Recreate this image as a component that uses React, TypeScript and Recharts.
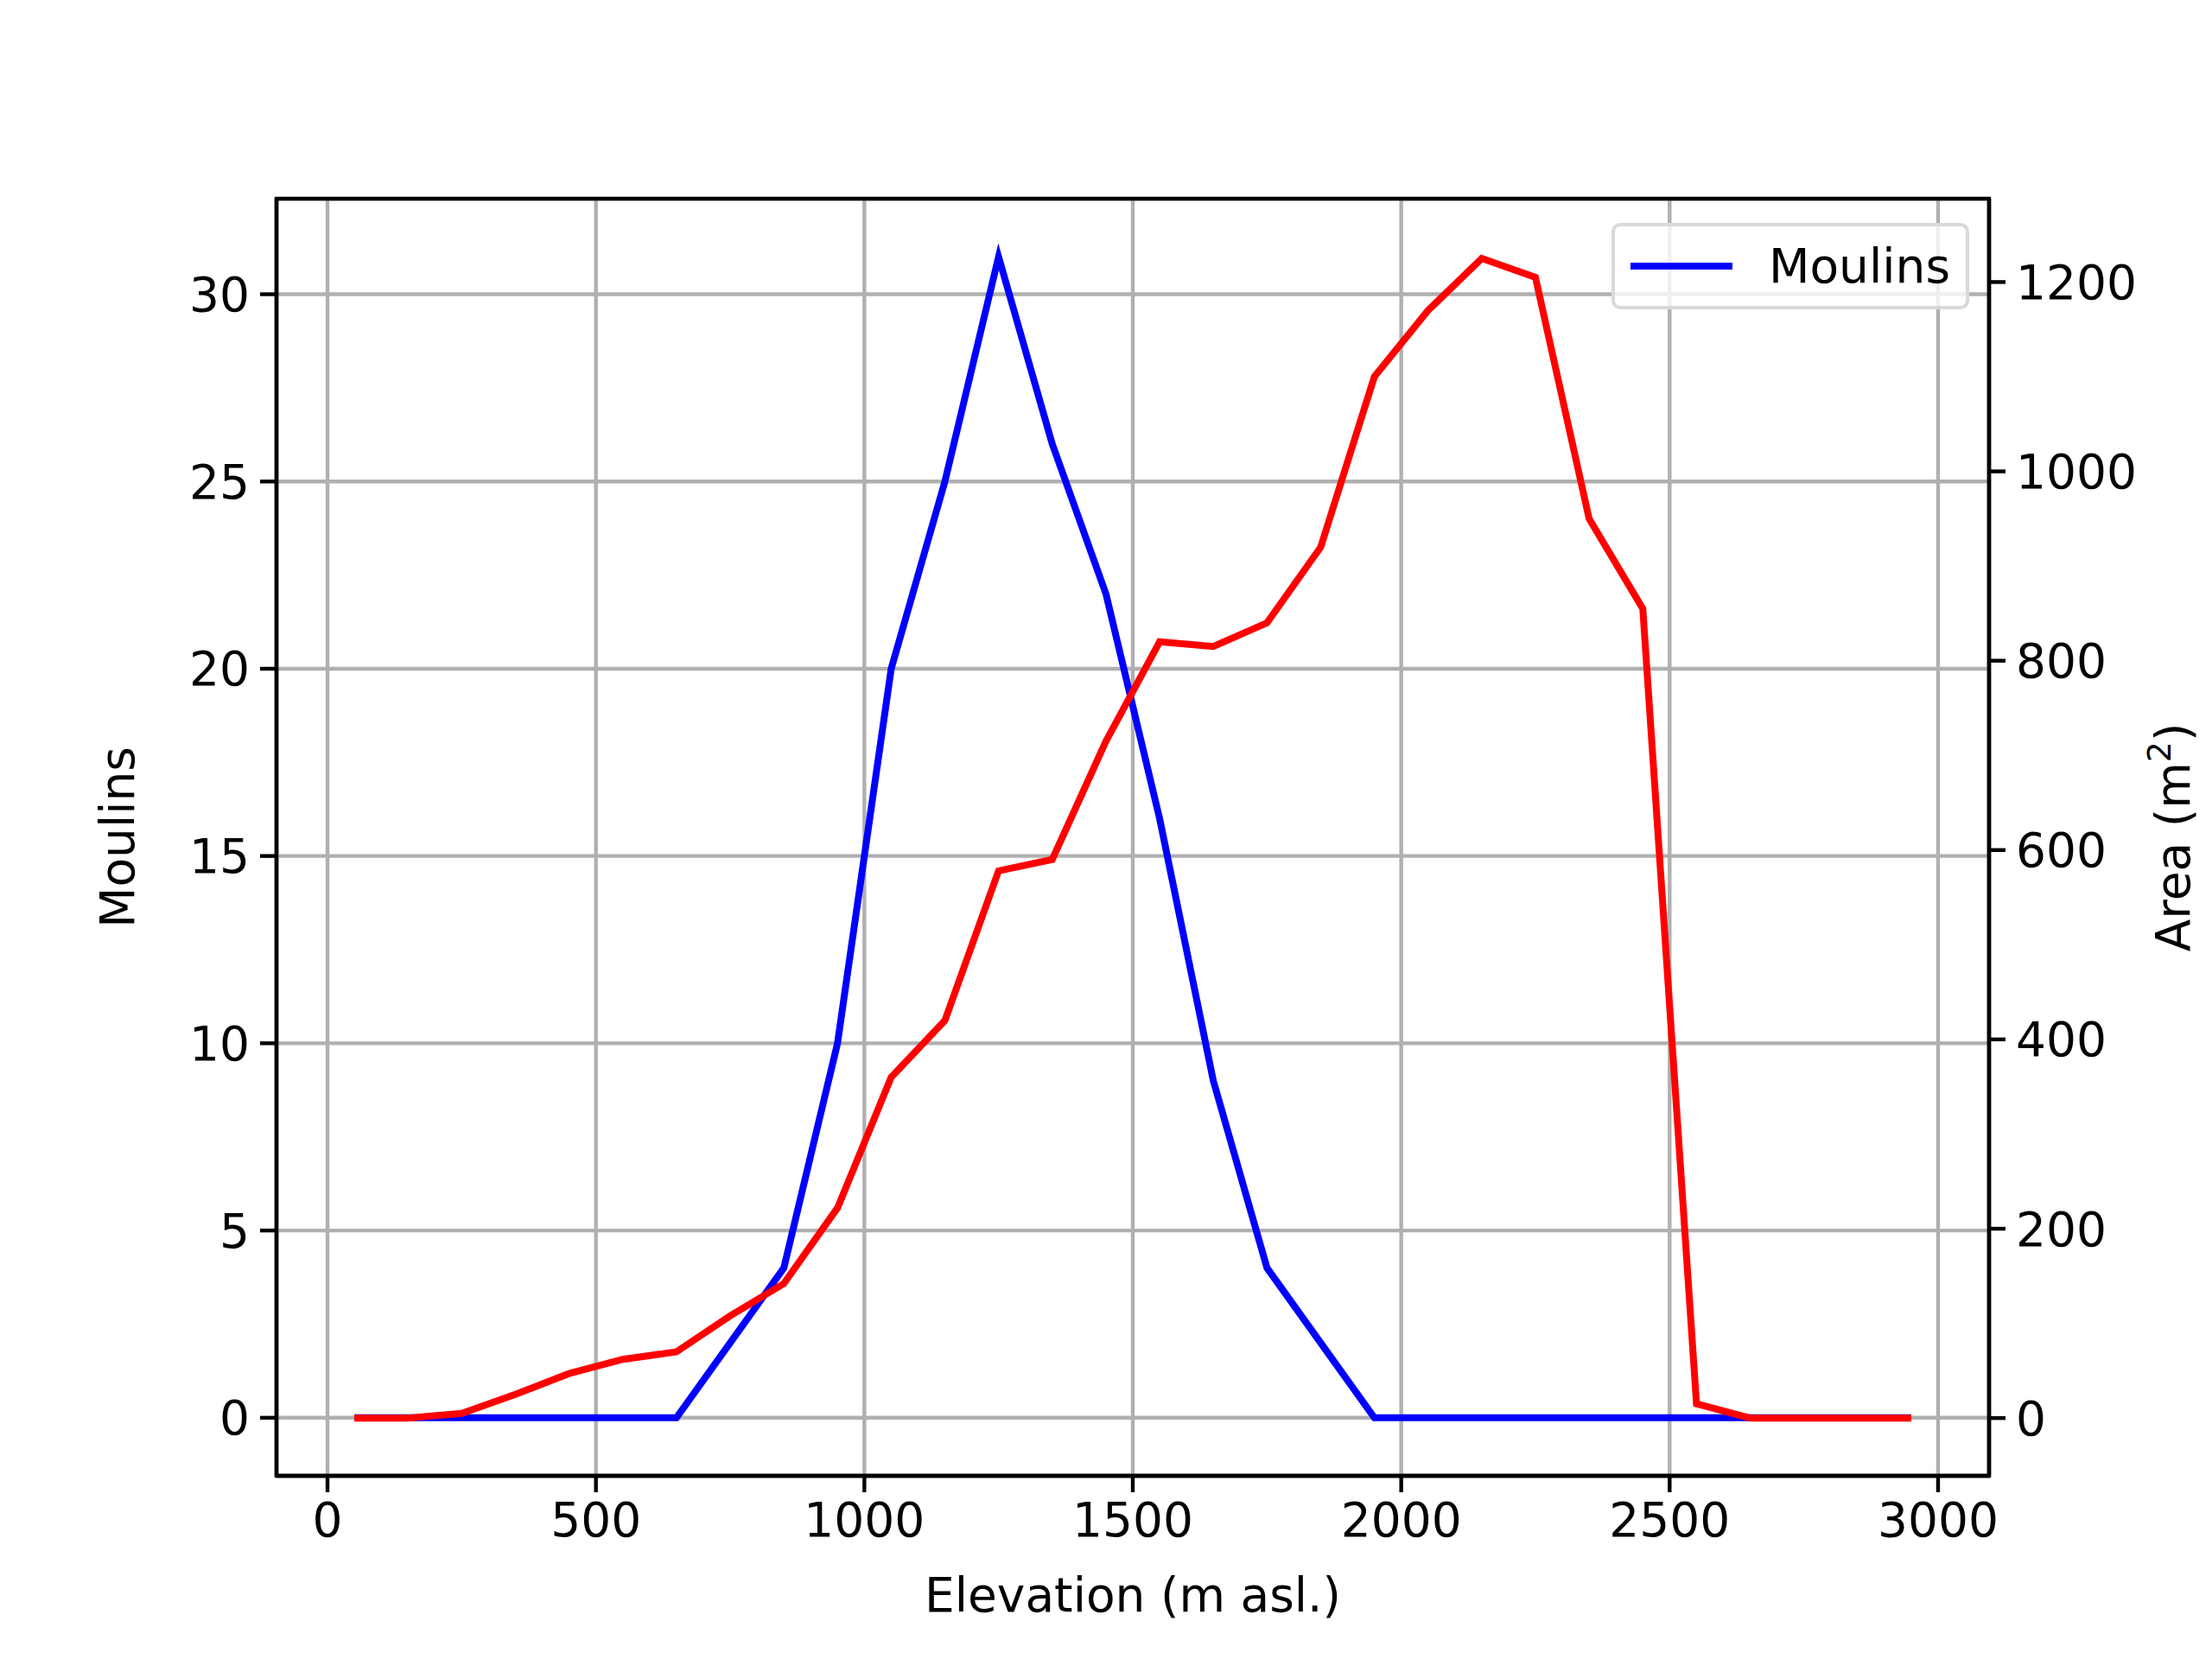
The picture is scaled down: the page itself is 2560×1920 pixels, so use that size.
import { LineChart, Line, XAxis, YAxis, CartesianGrid, ReferenceArea, Label } from "recharts";

const elevation = [50, 150, 250, 350, 450, 550, 650, 750, 850, 950, 1050, 1150, 1250, 1350, 1450, 1550, 1650, 1750, 1850, 1950, 2050, 2150, 2250, 2350, 2450, 2550, 2650, 2750, 2850, 2950];
const moulins = [0, 0, 0, 0, 0, 0, 0, 2, 4, 10, 20, 25, 31, 26, 22, 16, 9, 4, 2, 0, 0, 0, 0, 0, 0, 0, 0, 0, 0, 0];
const area = [0, 0, 5, 25, 47, 62, 70, 108, 142, 222, 360, 420, 578, 590, 715, 820, 815, 840, 920, 1100, 1170, 1225, 1205, 950, 855, 15, 0, 0, 0, 0];
const xTicks = [0, 500, 1000, 1500, 2000, 2500, 3000];
const leftTicks = [0, 5, 10, 15, 20, 25, 30];
const rightTicks = [0, 200, 400, 600, 800, 1000, 1200];

const data = elevation.map((e, i) => ({ e, m: moulins[i], a: area[i] }));
const font = "DejaVu Sans";
const tick = { fontSize: 55, fill: "#000", fontFamily: font };
const axisLine = { stroke: "#000", strokeWidth: 4.4 };

export default function App() {
  return (
    <div style={{ position: "absolute", left: 0, top: 0, width: 2560, height: 1920, background: "#fff" }}>
      <LineChart width={2560} height={1920} data={data} margin={{ top: 230, right: 0, bottom: 0, left: 0 }}>
        <CartesianGrid yAxisId="left" stroke="#b0b0b0" strokeWidth={4.4} horizontal vertical />
        <XAxis dataKey="e" type="number" domain={[-95, 3095]} ticks={xTicks} height={212} tick={tick}
          tickSize={19} tickMargin={12} axisLine={axisLine} tickLine={axisLine}>
          <Label value="Elevation (m asl.)" position="insideBottom" offset={55} style={{ fontSize: 55, fill: "#000", fontFamily: font }} />
        </XAxis>
        <YAxis yAxisId="left" type="number" domain={[-1.55, 32.55]} ticks={leftTicks} width={320} tick={tick}
          tickSize={19} tickMargin={12} axisLine={axisLine} tickLine={axisLine}>
          <Label value="Moulins" angle={-90} position="insideLeft" offset={135} style={{ fontSize: 55, fill: "#000", fontFamily: font, textAnchor: "middle" }} />
        </YAxis>
        <YAxis yAxisId="right" orientation="right" type="number" domain={[-61, 1288]} ticks={rightTicks} width={258} tick={tick}
          tickSize={19} tickMargin={12} axisLine={axisLine} tickLine={axisLine}
          label={(props: any) => {
            const vb = props.viewBox;
            const x = vb.x + 232;
            const y = vb.y + vb.height / 2;
            return (
              <text x={x} y={y} transform={`rotate(-90 ${x} ${y})`} textAnchor="middle" fontSize={55} fontFamily={font} fill="#000">
                Area (m<tspan fontSize={38} dy={-22}>2</tspan><tspan dy={22}>)</tspan>
              </text>
            );
          }} />
        <ReferenceArea yAxisId="left" x1={-95} x2={3095} y1={-1.55} y2={32.55} fill="none" stroke="#000" strokeWidth={4.4} fillOpacity={0} ifOverflow="visible" />
        <Line yAxisId="left" dataKey="m" stroke="#0000ff" strokeWidth={8} dot={false} isAnimationActive={false} type="linear" />
        <Line yAxisId="right" dataKey="a" stroke="#ff0000" strokeWidth={8} dot={false} isAnimationActive={false} type="linear" />
      </LineChart>
      <div style={{ position: "absolute", left: 1865, top: 258, width: 406, height: 92, border: "4px solid #d9d9d9", borderRadius: 10, background: "rgba(255,255,255,0.8)", fontFamily: font, fontSize: 55, display: "flex", alignItems: "center" }}>
        <div style={{ width: 118, height: 8, background: "#0000ff", marginLeft: 18, marginRight: 42 }} />
        <span>Moulins</span>
      </div>
    </div>
  );
}
